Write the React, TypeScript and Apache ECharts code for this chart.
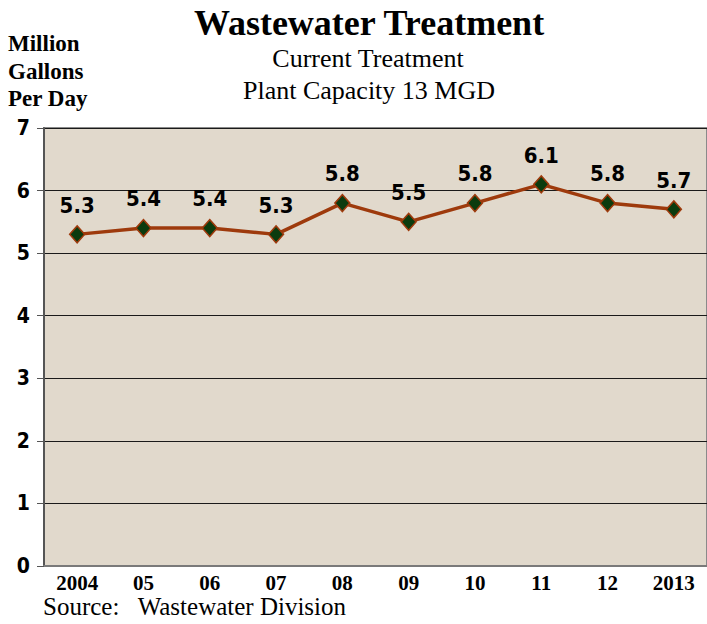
import React, { useEffect, useRef } from "react";
import * as echarts from "echarts";

const years = ["2004", "05", "06", "07", "08", "09", "10", "11", "12", "2013"];
const mgd = [5.3, 5.4, 5.4, 5.3, 5.8, 5.5, 5.8, 6.1, 5.8, 5.7];
const yTicks = { min: 0, max: 7, interval: 1 };

const SERIF = "Liberation Serif";
const NARROW = "DejaVu Sans Condensed";

export default function App() {
  const ref = useRef<HTMLDivElement>(null);
  useEffect(() => {
    if (!ref.current) return;
    const chart = echarts.init(ref.current, undefined, { renderer: "svg" });
    chart.setOption({
      animation: false,
      backgroundColor: "#ffffff",
      grid: {
        left: 44,
        right: -6,
        top: 128,
        bottom: 58,
        show: true,
        backgroundColor: "#e1d9cc",
        borderColor: "#8a8a8a",
        borderWidth: 2,
      },
      graphic: [
        {
          type: "text",
          x: 369,
          y: 5,
          style: {
            text: "Wastewater Treatment",
            fontFamily: SERIF,
            fontWeight: "bold",
            fontSize: 36,
            fill: "#000",
            textAlign: "center",
          },
        },
        {
          type: "text",
          x: 368,
          y: 45,
          style: {
            text: "Current Treatment",
            fontFamily: SERIF,
            fontSize: 26,
            fill: "#000",
            textAlign: "center",
          },
        },
        {
          type: "text",
          x: 369,
          y: 77,
          style: {
            text: "Plant Capacity 13 MGD",
            fontFamily: SERIF,
            fontSize: 26,
            fill: "#000",
            textAlign: "center",
          },
        },
        {
          type: "text",
          x: 8,
          y: 30,
          style: {
            text: "Million\nGallons\nPer Day",
            fontFamily: SERIF,
            fontWeight: "bold",
            fontSize: 23,
            lineHeight: 27.5,
            fill: "#000",
          },
        },
        {
          type: "text",
          x: 43,
          y: 594,
          style: {
            text: "Source:   Wastewater Division",
            fontFamily: SERIF,
            fontSize: 25,
            fill: "#000",
          },
        },
      ],
      xAxis: {
        type: "category",
        data: years,
        boundaryGap: true,
        axisLine: { show: true, lineStyle: { color: "#7a7a7a", width: 2 } },
        axisTick: { show: false },
        axisLabel: {
          color: "#000",
          fontFamily: SERIF,
          fontWeight: "bold",
          fontSize: 21,
          margin: 6,
        },
      },
      yAxis: {
        type: "value",
        min: yTicks.min,
        max: yTicks.max,
        interval: yTicks.interval,
        axisLine: { show: true, lineStyle: { color: "#555", width: 2 } },
        axisTick: { show: true, length: 7, lineStyle: { color: "#555", width: 1 } },
        axisLabel: {
          color: "#000",
          fontFamily: NARROW,
          fontWeight: "bold",
          fontSize: 21,
          margin: 14,
        },
        splitLine: { show: true, lineStyle: { color: "#1a1a1a", width: 1 } },
      },
      series: [
        {
          type: "line",
          data: mgd,
          symbol: "diamond",
          symbolSize: [15, 17],
          lineStyle: { color: "#9e3a0c", width: 3.5 },
          itemStyle: { color: "#0b3b0e", borderColor: "#9e3a0c", borderWidth: 1.5 },
          label: {
            show: true,
            position: "top",
            distance: 9,
            color: "#000",
            fontFamily: NARROW,
            fontWeight: "bold",
            fontSize: 22,
            formatter: (p: any) => p.value.toFixed(1),
          },
          z: 5,
        },
      ],
    });
    return () => chart.dispose();
  }, []);
  return (
    <div
      ref={ref}
      style={{ position: "fixed", left: 0, top: 0, width: 707, height: 624 }}
    />
  );
}
